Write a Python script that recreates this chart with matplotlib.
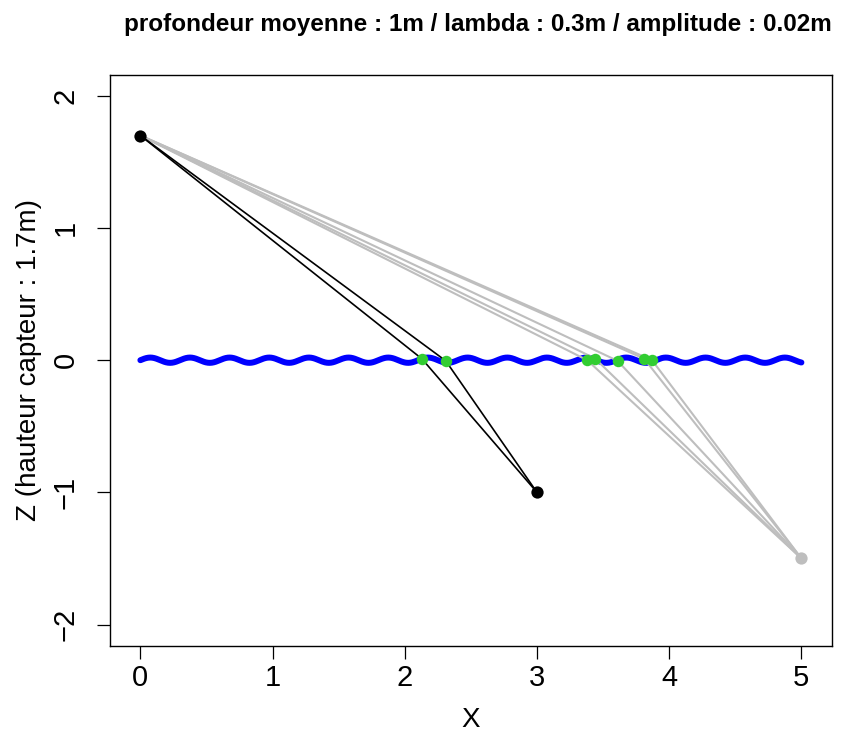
import numpy as np
import matplotlib
matplotlib.use("Agg")
import matplotlib.pyplot as plt

plt.rcParams['font.family'] = ['Liberation Sans', 'DejaVu Sans']

# surface parameters (from title)
depth = 1.0
wavelength = 0.3
amplitude = 0.02
x_start, x_end = 0.0, 5.0

# sensor and targets
sensor = (0.0, 1.7)
target_black = (3.0, -1.0)
target_gray = (5.0, -1.5)

# reflection points on the surface
black_px = [2.13, 2.31]
black_pz = [0.010, -0.005]
gray_px = [3.38, 3.44, 3.61, 3.81, 3.87]
gray_pz = [0.000, 0.012, -0.005, 0.012, 0.000]

fig = plt.figure(figsize=(8.49, 7.36), dpi=100)
ax = fig.add_axes([0.1292, 0.1227, 0.8504, 0.7758])

# water surface
xs = np.linspace(x_start, x_end, 1000)
zs = amplitude * np.sin(2 * np.pi * xs / wavelength)
ax.plot(xs, zs, color='#0000FF', lw=4.3, solid_capstyle='round', zorder=2)

for px, pz in zip(gray_px, gray_pz):
    ax.plot([sensor[0], px, target_gray[0]], [sensor[1], pz, target_gray[1]],
            color='#BEBEBE', lw=1.5, zorder=3)
for px, pz in zip(black_px, black_pz):
    ax.plot([sensor[0], px, target_black[0]], [sensor[1], pz, target_black[1]],
            color='black', lw=1.2, zorder=4)

ax.scatter(gray_px, gray_pz, s=68, color='#32CD32', zorder=5, linewidths=0)
ax.scatter(black_px, black_pz, s=68, color='#32CD32', zorder=5, linewidths=0)
ax.scatter([sensor[0], target_black[0]], [sensor[1], target_black[1]], s=78,
           color='black', zorder=6, linewidths=0)
ax.scatter([target_gray[0]], [target_gray[1]], s=78, color='#BEBEBE', zorder=6, linewidths=0)

ax.set_xlim(-0.232, 5.229)
ax.set_ylim(-2.16, 2.16)
ax.set_xticks([0, 1, 2, 3, 4, 5])
ax.set_yticks([-2, -1, 0, 1, 2])
ax.set_yticklabels(['\u22122', '\u22121', '0', '1', '2'], rotation=90, va='center')
ax.tick_params(direction='out', length=9.5, width=0.9, labelsize=21)
ax.tick_params(axis='x', pad=4)
ax.tick_params(axis='y', pad=12)
for s in ax.spines.values():
    s.set_linewidth(1.0)
ax.set_xlabel('X', fontsize=20, va='top')
ax.xaxis.set_label_coords(0.5, -0.1075)
ax.set_ylabel('Z (hauteur capteur : 1.7m)', fontsize=20)
ax.yaxis.set_label_coords(-0.094, 0.5)
fig.text(0.5624, 1 - 24 / 736, 'profondeur moyenne : 1m / lambda : 0.3m / amplitude : 0.02m',
         ha='center', va='center', fontsize=17.5, fontweight='bold')

fig.savefig('out.png', dpi=100)
